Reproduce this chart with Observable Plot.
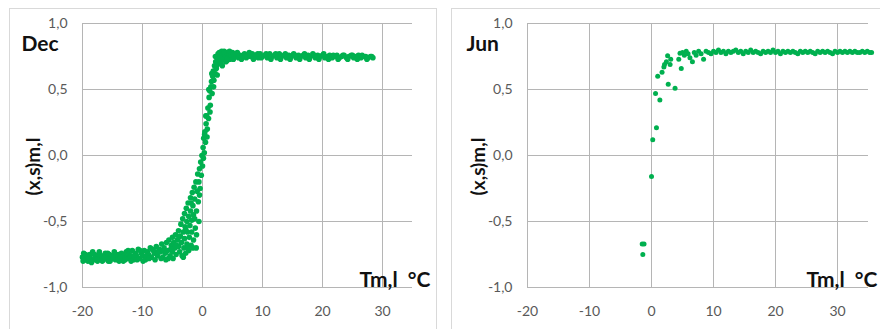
<!DOCTYPE html>
<html>
<head>
<meta charset="utf-8">
<script src="https://cdn.jsdelivr.net/npm/d3@7"></script>
<script src="https://cdn.jsdelivr.net/npm/@observablehq/plot@0.6"></script>
<style>
  html, body { margin: 0; padding: 0; background: #fff; }
  #wrap { position: relative; width: 880px; height: 329px; overflow: hidden; background: #fff; }
  .panel { position: absolute; top: 8px; height: 330px; border: 1px solid #d9d9d9; background: #fff; overflow: visible; }
  .panel svg { display: block; overflow: visible; }
</style>
</head>
<body>
<div id="wrap">
  <div class="panel" id="p1" style="left:9px;width:426px;"></div>
  <div class="panel" id="p2" style="left:451px;width:440px;"></div>
</div>
<script>
// ---- tick values ----
const xTicks = [-20, -10, 0, 10, 20, 30];
const yTicks = [-1, -0.5, 0, 0.5, 1];

// ---- labels ----
const titles = ["Dec", "Jun"];
const yLabel = "(x,s)m,l";
const xLabel = "Tm,l  °C";

// ---- December series: temperature Tm,l and value ----
const decT = [
  -20.0,-19.8,-19.6,-19.3,-19.1,-18.8,-18.6,-18.3,-18.1,-17.8,-17.5,-17.3,-17.0,-16.8,-16.5,-16.2,-16.0,-15.7,-15.5,-15.2,
  -15.0,-14.7,-14.5,-14.2,-14.0,-13.7,-13.5,-13.2,-13.0,-12.7,-12.5,-12.2,-12.0,-11.7,-11.5,-11.2,-11.0,-10.7,-10.5,-10.2,
  -10.0,-9.7,-9.5,-9.2,-9.0,-8.7,-8.5,-8.2,-8.0,-7.7,-7.5,-7.2,-7.0,-6.8,-6.6,-6.4,-6.2,-6.0,
  -5.8,-5.6,-5.4,-5.2,-5.0,-5.0,-4.8,-4.6,-4.5,-4.4,-4.2,-4.0,-4.0,-3.8,-3.7,-3.6,-3.5,-3.4,-3.3,-3.2,-3.1,-3.0,
  -3.0,-2.9,-2.8,-2.7,-2.6,-2.6,-2.5,-2.4,-2.3,-2.3,-2.2,-2.1,-2.0,-2.0,-1.9,-1.8,-1.8,-1.7,-1.6,-1.5,
  -1.5,-1.4,-1.3,-1.2,-1.1,-1.05,-1.0,-0.9,-0.8,-0.7,-0.6,-0.5,-0.4,-0.3,-0.2,
  -0.1,0.0,0.1,0.2,0.3,0.4,0.5,0.6,0.7,0.8,0.9,1.0,1.1,1.2,1.3,1.4,1.5,1.6,1.7,1.8,1.9,2.0,2.1,2.2,2.3,2.4,2.5,2.6,2.7,2.8,
  3.0,3.1,3.2,3.4,3.5,3.7,3.9,4.0,4.2,4.4,4.6,4.8,5.0,
  5.3,5.6,6.0,6.3,6.6,7.0,7.3,7.6,8.0,8.3,8.6,9.0,9.3,9.6,10.0,10.4,10.8,11.2,11.6,12.0,12.4,12.8,13.2,13.6,14.0,
  14.4,14.8,15.2,15.6,16.0,16.4,16.8,17.2,17.6,18.0,18.4,18.8,19.2,19.6,20.0,20.4,20.8,21.2,21.6,22.0,22.4,22.8,23.2,
  23.6,24.0,24.4,24.8,25.2,25.6,26.0,26.4,26.8,27.2,27.6,28.0,28.4,
  -19.9,-19.5,-19.0,-18.5,-18.0,-17.6,-17.2,-16.7,-16.3,-15.8,-15.4,-14.9,-14.4,-13.9,-13.4,-12.9,-12.4,-11.9,-11.4,-10.9,
  -10.4,-9.9,-9.4,-8.9,-8.4,-7.9,-7.4,-6.9,-6.5,-6.1,
  -5.7,-5.3,-4.9,-4.3,-3.9,-3.2,-2.8,-2.4,-1.9,-1.6,-1.3,-1.0,-0.6,-0.5,
  0.15,0.35,0.55,0.75,1.05,1.25,1.55,1.85,2.15,2.45,2.9,3.3,3.6,4.1,4.5,
  5.15,5.8,6.5,7.1,7.8,8.5,9.2,9.8,10.6,11.4,12.2,13.0,13.8,14.6,15.4,16.2,17.0,17.8,18.6,19.4,20.2,21.0,21.8,22.6,23.4,
  24.2,25.0,25.8,26.6,27.4,28.2
];
const decV = [
  -0.77,-0.74,-0.79,-0.76,-0.80,-0.75,-0.78,-0.73,-0.79,-0.77,-0.80,-0.75,-0.78,-0.76,-0.79,-0.74,-0.77,-0.80,-0.75,-0.78,
  -0.76,-0.73,-0.79,-0.77,-0.75,-0.78,-0.74,-0.80,-0.76,-0.73,-0.78,-0.75,-0.77,-0.72,-0.79,-0.74,-0.76,-0.71,-0.78,-0.74,
  -0.76,-0.72,-0.79,-0.73,-0.75,-0.70,-0.77,-0.72,-0.74,-0.69,-0.76,-0.71,-0.73,-0.67,-0.77,-0.70,-0.74,-0.66,
  -0.72,-0.64,-0.76,-0.68,-0.62,-0.73,-0.66,-0.70,-0.60,-0.75,-0.64,-0.57,-0.69,-0.73,-0.61,-0.52,-0.66,-0.76,-0.48,-0.58,-0.70,-0.44,
  -0.63,-0.54,-0.74,-0.40,-0.50,-0.67,-0.58,-0.36,-0.46,-0.72,-0.62,-0.53,-0.32,-0.42,-0.68,-0.49,-0.58,-0.28,-0.38,-0.45,
  -0.64,-0.24,-0.33,-0.55,-0.20,-0.70,-0.42,-0.27,-0.14,-0.35,-0.20,-0.10,-0.25,-0.05,-0.15,
  0.00,-0.08,0.06,0.13,0.02,0.18,0.10,0.24,0.30,0.20,0.36,0.28,0.44,0.49,0.38,0.52,0.56,0.47,0.60,0.64,0.57,0.68,0.62,0.71,0.66,0.74,0.69,0.77,0.72,0.78,
  0.75,0.70,0.79,0.73,0.77,0.76,0.71,0.78,0.74,0.77,0.73,0.76,0.78,
  0.75,0.77,0.74,0.76,0.75,0.77,0.74,0.76,0.75,0.77,0.75,0.76,0.74,0.77,0.75,0.76,0.74,0.77,0.75,0.76,0.74,0.77,0.75,0.76,0.74,
  0.76,0.75,0.77,0.74,0.76,0.75,0.76,0.74,0.76,0.75,0.77,0.74,0.76,0.75,0.76,0.74,0.75,0.76,0.74,0.75,0.76,0.74,0.75,
  0.76,0.74,0.75,0.76,0.74,0.75,0.76,0.74,0.75,0.75,0.74,0.75,0.74,
  -0.80,-0.75,-0.78,-0.81,-0.75,-0.79,-0.73,-0.80,-0.77,-0.74,-0.80,-0.78,-0.75,-0.80,-0.77,-0.79,-0.72,-0.80,-0.76,-0.79,
  -0.72,-0.80,-0.76,-0.78,-0.71,-0.79,-0.73,-0.78,-0.72,-0.79,
  -0.78,-0.71,-0.78,-0.68,-0.62,-0.77,-0.56,-0.70,-0.36,-0.70,-0.48,-0.60,-0.50,-0.30,
  -0.02,0.16,0.30,0.14,0.50,0.33,0.62,0.52,0.75,0.61,0.74,0.68,0.79,0.72,0.79,
  0.73,0.78,0.73,0.75,0.78,0.73,0.77,0.74,0.77,0.73,0.77,0.73,0.77,0.73,0.76,0.73,0.77,0.73,0.76,0.73,0.77,0.73,0.76,0.73,0.76,
  0.73,0.76,0.73,0.76,0.73,0.75
];

// ---- June series ----
const junT = [
  -1.5,-1.2,-1.4,0.0,0.2,0.8,0.65,1.35,1.0,1.7,2.0,2.1,2.4,2.6,2.7,3.0,3.1,3.8,4.4,4.6,4.8,
  5.0,5.3,5.6,5.9,6.2,6.6,6.9,7.2,7.6,8.0,8.4,8.8,9.2,9.6,10.0,10.4,10.8,11.2,11.6,12.0,12.4,12.8,13.2,13.6,14.0,
  14.4,14.8,15.2,15.6,16.0,16.4,16.8,17.2,17.6,18.0,18.4,18.8,19.2,19.6,20.0,20.4,20.8,21.2,21.6,22.0,22.4,22.8,
  23.2,23.6,24.0,24.4,24.8,25.2,25.6,26.0,26.4,26.8,27.2,27.6,28.0,28.4,28.8,29.2,29.6,30.0,30.4,30.8,31.2,31.6,
  32.0,32.4,32.8,33.2,33.6,34.0,34.4,34.8,35.2,35.5
];
const junV = [
  -0.67,-0.67,-0.75,-0.16,0.12,0.21,0.47,0.42,0.60,0.63,0.67,0.69,0.71,0.755,0.54,0.69,0.73,0.51,0.73,0.775,0.66,
  0.78,0.76,0.79,0.77,0.74,0.71,0.78,0.76,0.79,0.77,0.73,0.79,0.78,0.77,0.79,0.78,0.80,0.78,0.79,0.77,0.79,0.78,0.79,0.80,0.78,
  0.79,0.77,0.79,0.78,0.80,0.78,0.79,0.78,0.77,0.79,0.78,0.79,0.78,0.80,0.78,0.79,0.77,0.79,0.78,0.79,0.78,0.79,
  0.78,0.77,0.79,0.78,0.79,0.78,0.79,0.78,0.77,0.79,0.78,0.79,0.78,0.79,0.78,0.77,0.79,0.78,0.79,0.78,0.79,0.78,
  0.79,0.78,0.79,0.78,0.78,0.79,0.78,0.79,0.78,0.78
];

const green = "#00b04f";
const grid = "#b5b5b5";

function panel(title, T, V, w, ml, r, labelDx) {
  const data = T.map((t, i) => ({t, v: V[i]}));
  return Plot.plot({
    width: w, height: 320,
    marginLeft: ml, marginRight: 24, marginTop: 14, marginBottom: 42,
    style: {fontFamily: "Lato, 'Open Sans', sans-serif", fontSize: "14px", color: "#595959", background: "transparent", overflow: "visible"},
    x: {domain: [-20, 35], ticks: xTicks, tickFormat: d => String(d), tickSize: 0, tickPadding: 19, label: null},
    y: {domain: [-1, 1], ticks: yTicks, tickFormat: d => d.toFixed(1).replace(".", ","), tickSize: 0, tickPadding: 15, label: null},
    marks: [
      Plot.ruleY(yTicks, {y: d => d, stroke: grid, strokeWidth: 1}),
      Plot.ruleX(xTicks, {x: d => d, stroke: grid, strokeWidth: 1}),
      Plot.dot(data, {x: "t", y: "v", r: r, fill: green, stroke: "none"}),
      Plot.text([title], {text: d => d, frameAnchor: "top-left", textAnchor: "start", lineAnchor: "bottom", dx: -61, dy: 27,
        fontWeight: "bold", fontSize: 21, fill: "#111"}),
      Plot.text([yLabel], {text: d => d, frameAnchor: "left", textAnchor: "middle", rotate: -90, dx: -49, dy: 11,
        fontWeight: "bold", fontSize: 19, fill: "#111"}),
      Plot.text([xLabel], {text: d => d, frameAnchor: "bottom-right", textAnchor: "end", lineAnchor: "bottom", dx: labelDx, dy: -1,
        fontWeight: "bold", fontSize: 21, fill: "#111"})
    ]
  });
}

document.getElementById("p1").append(panel(titles[0], decT, decV, 426, 72, 2.8, 18));
document.getElementById("p2").append(panel(titles[1], junT, junV, 440, 75, 2.5, 9));
</script>
</body>
</html>
